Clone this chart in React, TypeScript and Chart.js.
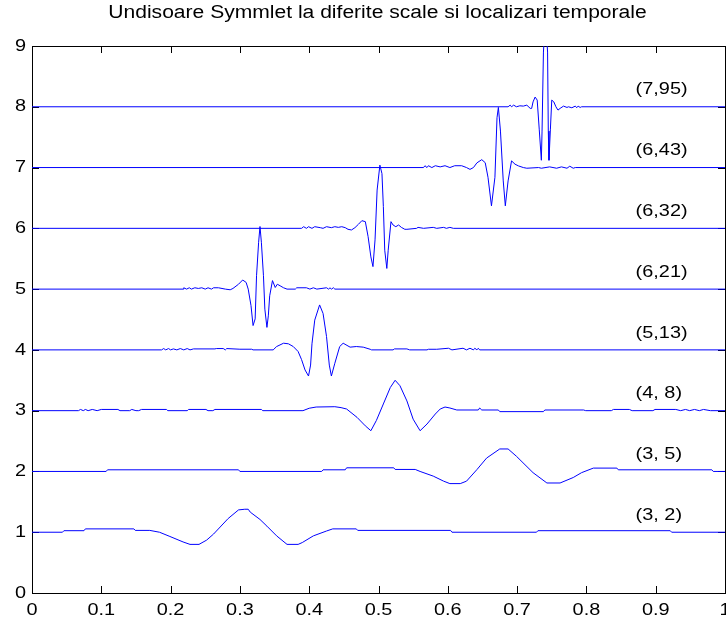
import React, { useEffect, useRef } from 'react';
import { Chart, registerables } from 'chart.js';

Chart.register(...registerables);

// ---- text and axes ----
const titleText = 'Undisoare Symmlet la diferite scale si localizari temporale';
const xTickValues = [0, 0.1, 0.2, 0.3, 0.4, 0.5, 0.6, 0.7, 0.8, 0.9, 1];
const xTickLabels = ['0', '0.1', '0.2', '0.3', '0.4', '0.5', '0.6', '0.7', '0.8', '0.9', '1'];
const yTickValues = [0, 1, 2, 3, 4, 5, 6, 7, 8, 9];
const yTickLabels = ['0', '1', '2', '3', '4', '5', '6', '7', '8', '9'];

// ---- wavelets: (scale, position) label, baseline level, label placement ----
const waveletLabels = ['(3, 2)', '(3, 5)', '(4, 8)', '(5,13)', '(6,21)', '(6,32)', '(6,43)', '(7,95)'];
const baseLevels = [1, 2, 3, 4, 5, 6, 7, 8];
const labelX = 0.871;
const labelLift = 0.28;

// each trace: [t, deflection from its baseline]
const w3_2: [number, number][] = [
  [0, 0], [0.044, 0], [0.046, 0.025], [0.075, 0.025], [0.077, 0.055], [0.147, 0.055], [0.149, 0.03],
  [0.170, 0.03], [0.184, 0.0], [0.199, -0.07], [0.218, -0.16], [0.228, -0.2], [0.241, -0.2],
  [0.252, -0.13], [0.262, -0.03], [0.283, 0.225], [0.298, 0.367], [0.307, 0.378], [0.312, 0.378],
  [0.315, 0.33], [0.329, 0.21], [0.339, 0.1], [0.353, -0.06], [0.368, -0.2], [0.384, -0.2],
  [0.390, -0.17], [0.406, -0.06], [0.425, 0.02], [0.434, 0.055], [0.468, 0.055], [0.470, 0.03],
  [0.604, 0.03], [0.606, 0.0], [0.728, 0.0], [0.730, 0.025], [0.921, 0.025], [0.923, 0], [1, 0],
];

const w3_5: [number, number][] = [
  [0, 0], [0.107, 0], [0.109, 0.027], [0.298, 0.027], [0.300, 0], [0.418, 0], [0.420, 0.027],
  [0.452, 0.027], [0.454, 0.06], [0.522, 0.06], [0.524, 0.033], [0.553, 0.033], [0.560, 0.0],
  [0.579, -0.077], [0.594, -0.16], [0.603, -0.2], [0.618, -0.2], [0.627, -0.16], [0.642, 0.03],
  [0.656, 0.22], [0.675, 0.37], [0.687, 0.37], [0.699, 0.25], [0.723, -0.02], [0.743, -0.19],
  [0.762, -0.19], [0.781, -0.1], [0.793, -0.02], [0.810, 0.055], [0.844, 0.055], [0.846, 0.027],
  [0.981, 0.027], [0.983, 0], [1, 0],
];

const w4_8: [number, number][] = [
  [0, 0], [0.067, 0], [0.070, 0.02], [0.074, 0], [0.077, 0.02], [0.081, 0], [0.087, 0.02], [0.094, 0],
  [0.100, 0.02], [0.124, 0.02], [0.127, 0], [0.141, 0], [0.144, 0.02], [0.150, 0], [0.154, 0],
  [0.158, 0.02], [0.194, 0.02], [0.196, 0], [0.224, 0], [0.226, 0.02], [0.251, 0.02], [0.254, 0],
  [0.261, 0], [0.264, 0.02], [0.331, 0.02], [0.333, 0], [0.391, 0], [0.400, 0.04], [0.410, 0.06],
  [0.437, 0.065], [0.446, 0.05], [0.454, 0.027], [0.469, -0.11], [0.481, -0.25], [0.489, -0.33],
  [0.497, -0.16], [0.507, 0.11], [0.517, 0.38], [0.524, 0.5], [0.531, 0.41], [0.541, 0.16],
  [0.550, -0.14], [0.560, -0.33], [0.570, -0.22], [0.582, -0.055], [0.589, 0.027], [0.596, 0.06],
  [0.603, 0.044], [0.613, 0.011], [0.644, 0.011], [0.646, 0.044], [0.649, 0.011], [0.673, 0.011],
  [0.675, -0.016], [0.738, -0.016], [0.740, 0.011], [0.796, 0.011], [0.799, 0], [0.836, 0],
  [0.839, 0.02], [0.862, 0.02], [0.866, 0], [0.896, 0], [0.899, 0.02], [0.929, 0.02], [0.936, 0],
  [0.943, 0.02], [0.949, 0], [0.956, 0.02], [0.963, 0], [0.969, 0.02], [0.979, 0], [1, 0],
];

const w5_13: [number, number][] = [
  [0, 0], [0.187, 0], [0.190, 0.022], [0.193, 0], [0.197, 0.022], [0.200, 0], [0.204, 0.016],
  [0.209, 0], [0.214, 0.022], [0.219, 0], [0.224, 0.022], [0.228, 0], [0.233, 0.016], [0.264, 0.016],
  [0.266, 0.022], [0.276, 0.022], [0.279, 0], [0.281, 0.022], [0.300, 0.011], [0.317, 0.011],
  [0.319, 0], [0.348, 0], [0.353, 0.055], [0.363, 0.11], [0.370, 0.1], [0.377, 0.055],
  [0.384, -0.027], [0.389, -0.16], [0.394, -0.33], [0.399, -0.43], [0.402, -0.25], [0.404, 0.1],
  [0.408, 0.49], [0.415, 0.74], [0.420, 0.6], [0.425, 0.22], [0.429, -0.25], [0.432, -0.43],
  [0.437, -0.22], [0.444, 0.055], [0.449, 0.11], [0.459, 0.045], [0.468, 0.055], [0.478, 0.045],
  [0.488, 0.01], [0.490, 0], [0.521, 0], [0.523, 0.016], [0.541, 0.016], [0.545, 0], [0.570, 0],
  [0.572, 0.01], [0.584, 0.01], [0.601, 0.027], [0.606, 0], [0.622, 0.027], [0.627, 0],
  [0.632, 0.027], [0.637, 0], [0.639, 0.027], [0.642, 0], [0.644, 0.027], [0.646, 0], [1, 0],
];

const w6_21: [number, number][] = [
  [0, 0], [0.218, 0], [0.219, 0.022], [0.223, 0], [0.227, 0.022], [0.230, 0], [0.235, 0.022],
  [0.240, 0.011], [0.245, 0.022], [0.250, 0], [0.254, 0.022], [0.259, 0], [0.262, 0.022],
  [0.269, 0.022], [0.279, 0], [0.286, -0.011], [0.290, 0.011], [0.298, 0.08], [0.304, 0.15],
  [0.309, 0.11], [0.312, 0], [0.316, -0.27], [0.319, -0.6], [0.322, -0.49], [0.324, 0.22],
  [0.327, 0.77], [0.329, 1.03], [0.331, 0.77], [0.334, 0.22], [0.336, -0.33], [0.339, -0.63],
  [0.341, -0.44], [0.343, -0.11], [0.347, 0.14], [0.351, 0.027], [0.354, 0.08], [0.358, 0.055],
  [0.363, 0.022], [0.368, 0], [0.380, 0], [0.382, 0.022], [0.396, 0.022], [0.401, 0], [0.406, 0.022],
  [0.411, 0], [0.425, 0.022], [0.428, 0], [0.430, 0.022], [0.432, 0], [0.435, 0.022], [0.437, 0],
  [1, 0],
];

const w6_32: [number, number][] = [
  [0, 0], [0.389, 0], [0.392, 0.027], [0.396, 0], [0.399, 0.027], [0.404, 0], [0.408, 0.027],
  [0.416, 0.011], [0.420, 0], [0.425, 0.027], [0.432, 0.011], [0.437, 0.027], [0.442, 0.016],
  [0.447, 0.027], [0.452, 0.011], [0.456, -0.016], [0.461, -0.027], [0.466, 0.011], [0.471, 0.066],
  [0.476, 0.126], [0.481, 0.11], [0.485, -0.137], [0.489, -0.47], [0.492, -0.63], [0.495, -0.19],
  [0.498, 0.63], [0.502, 1.04], [0.505, 0.9], [0.507, 0.36], [0.509, -0.36], [0.512, -0.66],
  [0.514, -0.36], [0.518, 0.11], [0.521, 0.055], [0.525, 0.027], [0.529, 0.055], [0.533, 0.016],
  [0.538, -0.016], [0.541, -0.016], [0.555, 0], [0.557, 0.016], [0.565, 0], [0.579, 0.016],
  [0.584, 0], [0.594, 0.016], [0.598, 0], [0.603, 0.016], [0.608, 0], [1, 0],
];

const w6_43: [number, number][] = [
  [0, 0], [0.565, 0], [0.567, 0.03], [0.570, 0], [0.572, 0.03], [0.577, 0], [0.582, 0.03],
  [0.589, 0.011], [0.596, 0.03], [0.603, 0], [0.610, 0.03], [0.620, 0.03], [0.627, 0], [0.632, -0.03],
  [0.637, 0], [0.642, 0.077], [0.649, 0.13], [0.654, 0.08], [0.658, -0.16], [0.663, -0.63],
  [0.668, -0.16], [0.671, 0.82], [0.673, 0.99], [0.676, 0.6], [0.680, -0.22], [0.683, -0.63],
  [0.687, -0.22], [0.692, 0.11], [0.697, 0.055], [0.702, 0.027], [0.709, 0], [0.714, -0.011],
  [0.731, 0], [0.735, -0.011], [0.747, 0.011], [0.757, -0.011], [0.764, 0.011], [0.772, -0.011],
  [0.776, 0.022], [0.781, -0.011], [0.784, 0], [1, 0],
];

const w7_95: [number, number][] = [
  [0, 0], [0.687, 0], [0.690, 0.027], [0.692, 0], [0.695, 0.027], [0.699, 0], [0.704, 0.016],
  [0.709, 0.011], [0.714, 0.027], [0.719, -0.027], [0.721, -0.027], [0.723, 0.08], [0.726, 0.16],
  [0.729, 0.11], [0.732, -0.38], [0.735, -0.88], [0.736, -0.4], [0.738, 0.9], [0.741, 1.45],
  [0.744, 0.9], [0.745, -0.4], [0.746, -0.88], [0.748, -0.38], [0.750, 0.11], [0.753, 0.08],
  [0.756, 0], [0.759, -0.055], [0.762, -0.027], [0.767, 0.011], [0.772, -0.011], [0.774, 0],
  [0.779, -0.016], [0.784, 0.011], [0.786, -0.016], [0.788, 0.011], [0.791, -0.011], [0.793, 0],
  [1, 0],
];

const traces = [w3_2, w3_5, w4_8, w5_13, w6_21, w6_32, w6_43, w7_95];

// ---- drawing style ----
const FONT_FAMILY = '"Liberation Sans", Arial, Helvetica, sans-serif';
const FONT_SIZE = 17;
const TITLE_FONT_SIZE = 18;
const TEXT_STRETCH = 1.17;
const TICK_LEN = 7;
const LINE_BLUE = '#0000ff';

function drawText(
  ctx: CanvasRenderingContext2D,
  text: string,
  x: number,
  y: number,
  align: CanvasTextAlign,
) {
  ctx.save();
  ctx.translate(x, y);
  ctx.scale(TEXT_STRETCH, 1);
  ctx.textAlign = align;
  ctx.textBaseline = 'middle';
  ctx.fillText(text, 0, 0);
  ctx.restore();
}

// box, inward ticks (under the traces)
const framePlugin = {
  id: 'matlabFrame',
  beforeDatasetsDraw(chart: any) {
    const { ctx, chartArea: a, scales } = chart;
    const xs = scales.x;
    const ys = scales.y;
    ctx.save();
    ctx.strokeStyle = '#000';
    ctx.lineWidth = 1;
    ctx.beginPath();
    for (const v of xTickValues) {
      const px = Math.round(xs.getPixelForValue(v)) + 0.5;
      ctx.moveTo(px, a.bottom);
      ctx.lineTo(px, a.bottom - TICK_LEN);
      ctx.moveTo(px, a.top);
      ctx.lineTo(px, a.top + TICK_LEN);
    }
    for (const v of yTickValues) {
      const py = Math.round(ys.getPixelForValue(v)) + 0.5;
      ctx.moveTo(a.left, py);
      ctx.lineTo(a.left + TICK_LEN, py);
      ctx.moveTo(a.right, py);
      ctx.lineTo(a.right - TICK_LEN, py);
    }
    ctx.stroke();
    ctx.strokeRect(a.left + 0.5, a.top + 0.5, a.right - a.left, a.bottom - a.top);
    ctx.restore();
  },
  afterDraw(chart: any) {
    const { ctx, chartArea: a, scales } = chart;
    const xs = scales.x;
    const ys = scales.y;
    ctx.save();
    ctx.fillStyle = '#000';
    ctx.font = `${FONT_SIZE}px ${FONT_FAMILY}`;
    xTickValues.forEach((v, i) => {
      drawText(ctx, xTickLabels[i], xs.getPixelForValue(v), a.bottom + 17, 'center');
    });
    yTickValues.forEach((v, i) => {
      drawText(ctx, yTickLabels[i], a.left - 6, ys.getPixelForValue(v), 'right');
    });
    waveletLabels.forEach((lab, i) => {
      drawText(ctx, lab, xs.getPixelForValue(labelX), ys.getPixelForValue(baseLevels[i] + labelLift), 'left');
    });
    ctx.font = `${TITLE_FONT_SIZE}px ${FONT_FAMILY}`;
    drawText(ctx, titleText, (a.left + a.right) / 2 - 1, 13, 'center');
    ctx.restore();
  },
};

export default function App() {
  const canvasRef = useRef<HTMLCanvasElement | null>(null);

  useEffect(() => {
    document.body.style.margin = '0';
    const canvas = canvasRef.current;
    if (!canvas) return;

    const datasets = traces.map((trace, i) => ({
      label: waveletLabels[i],
      data: trace.map(([t, d]) => ({ x: t, y: baseLevels[i] + d })),
      borderColor: LINE_BLUE,
      borderWidth: 1,
      pointRadius: 0,
      tension: 0,
      fill: false,
    }));

    const chart = new Chart(canvas, {
      type: 'line',
      data: { datasets },
      options: {
        animation: false,
        responsive: false,
        maintainAspectRatio: false,
        events: [],
        layout: { padding: { top: 46, right: 1, left: 0, bottom: 0 } },
        plugins: {
          legend: { display: false },
          title: { display: false },
          tooltip: { enabled: false },
        },
        scales: {
          x: {
            type: 'linear',
            min: 0,
            max: 1,
            ticks: { display: false },
            grid: { display: false, drawTicks: false },
            border: { display: false },
            afterFit: (s: any) => {
              s.height = 26;
            },
          },
          y: {
            type: 'linear',
            min: 0,
            max: 9,
            ticks: { display: false },
            grid: { display: false, drawTicks: false },
            border: { display: false },
            afterFit: (s: any) => {
              s.width = 32;
            },
          },
        },
      },
      plugins: [framePlugin],
    });

    return () => chart.destroy();
  }, []);

  return (
    <div style={{ width: 726, height: 619, background: '#fff' }}>
      <canvas ref={canvasRef} width={726} height={619} style={{ display: 'block' }} />
    </div>
  );
}
